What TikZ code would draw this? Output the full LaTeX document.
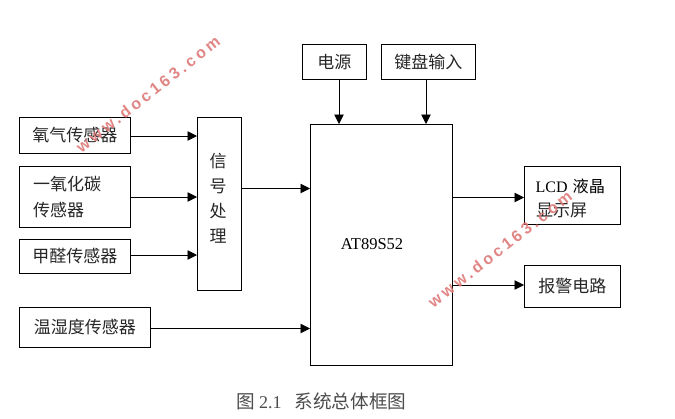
\documentclass[tikz,border=0pt]{standalone}
\usepackage{fontspec}
\setmainfont{Liberation Serif}
\newfontfamily\cjk{Noto Sans CJK SC}[Scale=0.95]
\newfontfamily\wmfont{Liberation Sans}[LetterSpace=21,Scale=1]
\usetikzlibrary{arrows.meta}
\definecolor{wmred}{RGB}{222,120,120}
\tikzset{
  cjktxt/.style={font=\cjk\fontsize{17.9}{24}\selectfont,text=black!85,inner sep=0pt},
  blk/.style={cjktxt,draw=black,line width=0.85pt,anchor=north west},
  arr/.style={draw=black,line width=0.95pt,-{Triangle[length=9.5pt,width=9.5pt]}},
  wm/.style={text=wmred,font=\wmfont\bfseries\fontsize{16}{16}\selectfont,inner sep=0pt,opacity=0.9},
}
\newcommand{\bx}[6]{\node[blk,minimum width=#4pt,minimum height=#5pt] (#1) at (#2,#3) {#6};}
\begin{document}
\begin{tikzpicture}[x=1pt,y=-1pt]
\useasboundingbox (0,0) rectangle (675,418);
\fill[white] (0,0) rectangle (675,418);
\bx{o}{19}{117}{111}{36}{氧气传感器}
\bx{co}{19}{166}{111}{61}{}
\bx{hc}{19}{239}{111}{34}{甲醛传感器}
\bx{th}{19}{307}{131}{40}{温湿度传感器}
\bx{sig}{197}{117}{44}{173}{}
\bx{mcu}{310}{124}{142}{241}{}
\bx{pw}{302}{44}{64}{35}{电源}
\bx{kb}{381}{44}{94}{35}{键盘输入}
\bx{lcd}{524}{166}{96}{58}{}
\bx{al}{524}{265}{96}{42}{报警电路}
\node[cjktxt,anchor=west] (cot1) at (33,184) {一氧化碳};
\node[cjktxt,anchor=west] (cot2) at (33,210) {传感器};
\node[cjktxt] (s1) at (218,161) {信};
\node[cjktxt] (s2) at (218,186) {号};
\node[cjktxt] (s3) at (218,211) {处};
\node[cjktxt] (s4) at (218,236) {理};
\node[font=\fontsize{16.5}{16}\selectfont,inner sep=0pt] (mt) at (372,244) {AT89S52};
\node[font=\fontsize{16}{24}\selectfont,inner sep=0pt,anchor=west] (l1) at (535.5,186) {LCD\hspace{5pt}{\cjk\fontsize{17}{24}\selectfont 液晶}};
\node[cjktxt,anchor=west] (l2) at (536,210) {显示屏};
\node[font=\fontsize{19.6}{22}\selectfont,text=black!70,inner sep=0pt] (cap) at (321.5,401) {{\cjk 图}\hspace{4pt}{\fontsize{18}{22}\selectfont 2.1}\hspace{13pt}{\cjk 系统总体框图}};
\coordinate (ao) at (130,136);
\coordinate (aco) at (130,197);
\coordinate (ahc) at (130,255);
\draw[arr] (ao) -- (ao -| sig.west);
\draw[arr] (aco) -- (aco -| sig.west);
\draw[arr] (ahc) -- (ahc -| sig.west);
\coordinate (asg) at (241,188.5);
\draw[arr] (asg) -- (asg -| mcu.west);
\coordinate (ath) at (150,328.5);
\draw[arr] (ath) -- (ath -| mcu.west);
\coordinate (apw) at (339,79);
\draw[arr] (apw) -- (apw |- mcu.north);
\coordinate (akb) at (426,79);
\draw[arr] (akb) -- (akb |- mcu.north);
\coordinate (almcd) at (452,197.5);
\draw[arr] (almcd) -- (almcd -| lcd.west);
\coordinate (aal) at (452,285);
\draw[arr] (aal) -- (aal -| al.west);
\node[wm,rotate=38] (w1) at (148,94) {www.doc163.com};
\node[wm,rotate=38] (w2) at (500,249) {www.doc163.com};
\end{tikzpicture}
\end{document}
